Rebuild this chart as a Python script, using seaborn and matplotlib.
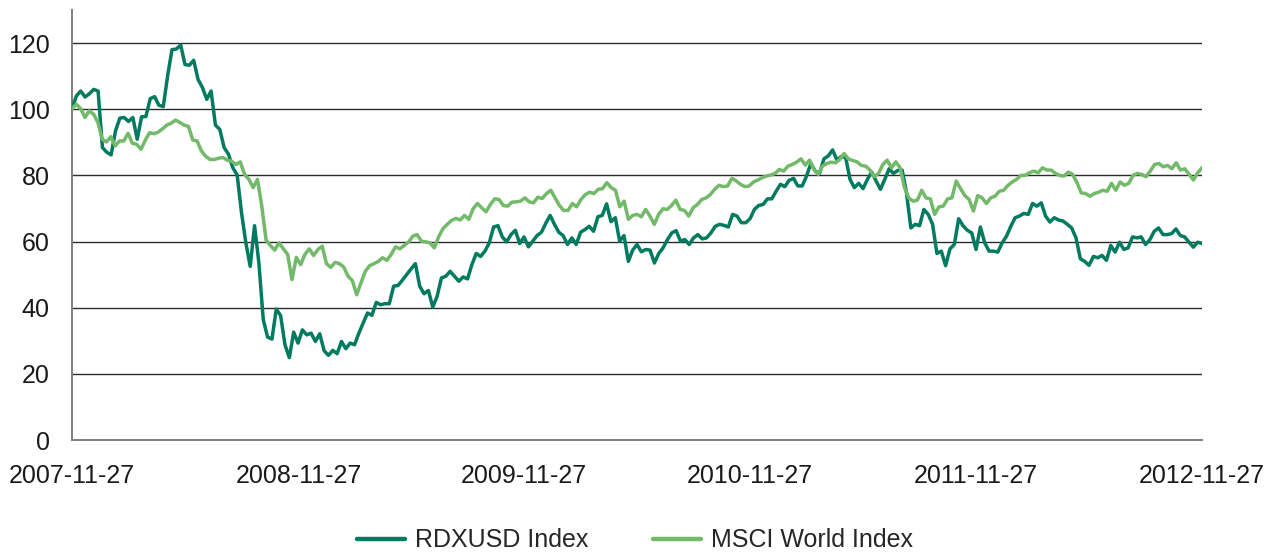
#!/usr/bin/env python3

# ===================== LIBRARIES =====================

import matplotlib
matplotlib.use("Agg")
import matplotlib.pyplot as plt
import matplotlib.dates as mdates
import seaborn as sns
import pandas as pd

# ===================== DATA =====================

start_date = "2007-11-27"
end_date = "2012-11-27"

tick_dates = ["2007-11-27", "2008-11-27", "2009-11-27",
              "2010-11-27", "2011-11-27", "2012-11-27"]
y_ticks = [0, 20, 40, 60, 80, 100, 120]

series_names = ["RDXUSD Index", "MSCI World Index"]

# weekly values
rdxusd = [
    100.2, 104.0, 105.5, 103.7, 104.7, 106.0, 105.5, 88.4, 87.0, 86.2,
    93.4, 97.3, 97.5, 96.3, 97.5, 90.9, 97.7, 97.8, 103.2, 103.8,
    101.2, 100.8, 110.1, 118.0, 118.2, 119.4, 113.5, 113.3, 114.8, 109.0,
    106.6, 103.0, 105.5, 95.2, 93.9, 88.4, 86.4, 82.3, 80.1, 68.7,
    59.6, 52.5, 64.8, 53.5, 36.4, 31.1, 30.5, 39.6, 37.6, 28.8,
    24.9, 32.6, 29.3, 33.3,
    31.8, 32.3, 29.8, 32.1, 27.0, 25.6, 27.1, 26.1, 29.8, 27.6,
    29.3, 28.8, 32.3, 35.4, 38.4, 37.7, 41.6, 40.9, 41.2, 41.2,
    46.5, 46.7, 48.3, 50.0, 51.7, 53.3, 46.5, 44.2, 45.2, 40.2,
    43.4, 49.0, 49.5, 51.0, 49.5, 48.0, 49.3, 48.7, 53.0, 56.4,
    55.5, 57.1, 59.6, 64.4, 64.8, 61.4, 59.9, 62.1, 63.4, 59.4,
    61.4, 58.4, 60.1, 61.8,
    62.8, 65.5, 67.9, 65.2, 62.8, 61.8, 59.1, 61.1, 59.1, 62.8,
    63.6, 64.6, 63.1, 67.5, 67.9, 71.4, 66.0, 67.2, 60.1, 61.8,
    54.0, 57.4, 59.1, 56.9, 57.6, 57.4, 53.5, 56.4, 58.1, 60.6,
    62.6, 63.3, 60.1, 60.6, 59.1, 61.1, 62.1, 60.8, 61.1, 62.6,
    64.6, 65.2, 64.9, 64.4, 68.2, 67.7, 65.7, 65.7,
    66.9, 69.7, 70.9, 71.2, 72.9, 72.9, 75.2, 77.3, 76.6, 78.5,
    79.1, 76.8, 76.8, 79.8, 83.6, 81.3, 80.6, 85.0, 85.9, 87.7,
    84.6, 85.7, 85.4, 78.8, 76.3, 77.6, 76.0, 78.8, 81.0, 78.3,
    75.8, 78.8, 82.0, 80.6, 81.5, 81.6, 74.7, 64.1, 65.2, 64.8,
    69.7, 68.2, 65.2, 56.4, 57.1, 52.7, 57.8, 59.1, 66.9, 64.8,
    63.4, 62.6, 57.6, 64.4, 59.6, 57.1, 57.1, 56.8, 59.6,
    61.6, 64.6, 67.2, 67.7, 68.5, 68.2, 71.5, 70.7, 71.7, 67.7,
    65.9, 67.2, 66.5, 66.2, 65.2, 64.1, 61.1, 54.8, 54.0, 52.8,
    55.5, 55.1, 55.8, 54.3, 58.8, 56.8, 59.8, 57.6, 58.1, 61.4,
    61.1, 61.4, 59.1, 60.6, 63.1, 64.1, 62.1, 62.1, 62.4, 63.8,
    61.8, 61.4, 59.8, 58.3, 59.8, 59.4,
]

msci_world = [
    100.2, 101.5, 100.2, 97.5, 99.5, 98.5, 96.0, 90.9, 90.1, 91.7,
    88.9, 90.4, 90.4, 92.7, 89.7, 89.4, 87.9, 90.7, 92.9, 92.6,
    93.1, 94.1, 95.2, 95.8, 96.7, 96.0, 95.2, 94.8, 90.7, 90.4,
    87.4, 85.8, 84.8, 84.8, 85.2, 85.4, 84.6, 84.3, 83.3, 84.1,
    80.3, 78.8, 76.3, 78.8, 70.7, 60.4, 58.8, 57.4, 59.6, 57.8,
    56.1, 48.5, 55.2, 53.0, 56.1,
    57.8, 55.8, 57.6, 58.6, 53.3, 52.2, 53.7, 53.3, 52.3, 49.5,
    48.2, 43.9, 47.5, 51.0, 52.7, 53.3, 54.0, 55.1, 54.3, 56.1,
    58.4, 57.8, 58.8, 59.8, 61.6, 62.1, 60.1, 59.9, 59.6, 58.1,
    61.4, 63.9, 65.2, 66.4, 67.0, 66.5, 67.9, 66.7, 69.9, 71.5,
    70.2, 69.0, 71.2, 72.9, 72.7, 70.9, 70.7, 71.9, 72.0, 72.2,
    73.2, 72.0, 71.7, 73.4,
    73.0, 74.5, 75.5, 73.2, 70.9, 69.4, 69.4, 71.5, 70.5, 72.7,
    74.2, 74.9, 74.5, 75.8, 76.0, 77.8, 76.3, 75.5, 70.5, 72.2,
    66.7, 67.9, 68.2, 67.5, 69.7, 67.7, 65.2, 68.2, 69.9, 69.7,
    70.9, 72.5, 69.7, 69.4, 67.7, 70.2, 71.2, 72.7, 73.2, 74.2,
    75.8, 77.0, 76.6, 76.8, 79.1, 78.3, 77.3, 76.6,
    76.8, 78.0, 78.6, 79.3, 79.8, 80.1, 80.6, 81.8, 81.3, 82.8,
    83.3, 84.0, 85.0, 83.1, 84.6, 81.8, 80.3, 82.8, 83.6, 84.0,
    83.8, 84.8, 86.6, 85.0, 84.5, 84.1, 83.0, 82.8, 81.6, 79.6,
    80.6, 83.3, 84.6, 82.3, 84.1, 82.3, 76.3, 73.2, 72.2, 72.5,
    75.5, 73.2, 72.9, 68.2, 70.5, 70.7, 72.9, 73.2, 78.3, 76.0,
    73.9, 72.7, 69.2, 73.9, 73.2, 71.5, 73.2, 73.7, 75.2,
    75.5, 77.0, 78.0, 78.8, 80.0, 80.0, 80.8, 81.3, 80.8, 82.3,
    81.6, 81.6, 80.6, 80.0, 79.8, 81.0, 80.3, 77.8, 74.7, 74.5,
    73.7, 74.5, 74.9, 75.5, 75.2, 77.6, 75.5, 78.0, 77.0, 77.6,
    80.0, 80.6, 80.3, 79.6, 81.3, 83.3, 83.6, 82.6, 83.0, 82.0,
    83.8, 81.6, 82.0, 80.3, 78.6, 80.8, 82.3,
]

colors = {"RDXUSD Index": "#007b5f", "MSCI World Index": "#72b96a"}

# ===================== MAIN =====================

def main() -> None:

    # Long-form table, one weekly date grid per series
    frames = []
    for name, values in zip(series_names, [rdxusd, msci_world]):
        dates = pd.date_range(start_date, end_date, periods=len(values))
        frames.append(pd.DataFrame({"Date": dates, "Value": values, "Series": name}))
    data = pd.concat(frames, ignore_index=True)

    sns.set_style("white")
    plt.rcParams["font.family"] = ["Liberation Sans", "DejaVu Sans"]

    fig = plt.figure(figsize=(12.7, 5.55), dpi=100)
    ax = fig.add_axes([0.0567, 0.2072, 0.8898, 0.7748])

    # Horizontal gridlines first so the lines sit on top
    for yv in y_ticks[1:]:
        ax.axhline(yv, color="#2b2b2b", linewidth=1.0, zorder=1)

    sns.lineplot(
        data=data,
        x="Date",
        y="Value",
        hue="Series",
        hue_order=series_names,
        palette=colors,
        linewidth=2.5,
        ax=ax,
        zorder=3,
    )

    ax.set_xlim(pd.Timestamp(start_date), pd.Timestamp(end_date))
    ax.set_ylim(0, 130)
    ax.set_yticks(y_ticks)
    ax.set_xticks(pd.to_datetime(tick_dates))
    ax.xaxis.set_major_formatter(mdates.DateFormatter("%Y-%m-%d"))

    ax.set_xlabel("")
    ax.set_ylabel("")

    for side in ["top", "right"]:
        ax.spines[side].set_visible(False)
    for side in ["left", "bottom"]:
        ax.spines[side].set_color("#808080")
        ax.spines[side].set_linewidth(1.4)

    ax.tick_params(axis="both", which="major", direction="out", length=6,
                   width=1.2, color="#555555", labelsize=18,
                   labelcolor="#1a1a1a", pad=10)
    ax.tick_params(axis="x", pad=11)

    # Legend centred at the bottom of the figure
    handles, labels = ax.get_legend_handles_labels()
    ax.get_legend().remove()
    for h in handles:
        h.set_linewidth(3.2)
    fig.legend(
        handles, labels,
        loc="lower center",
        bbox_to_anchor=(0.5, -0.036),
        ncol=2,
        frameon=False,
        fontsize=18,
        handlelength=1.9,
        handletextpad=0.4,
        columnspacing=2.6,
    )

    fig.savefig("out.png", dpi=100)
    plt.close("all")

if __name__ == "__main__":
    main()
